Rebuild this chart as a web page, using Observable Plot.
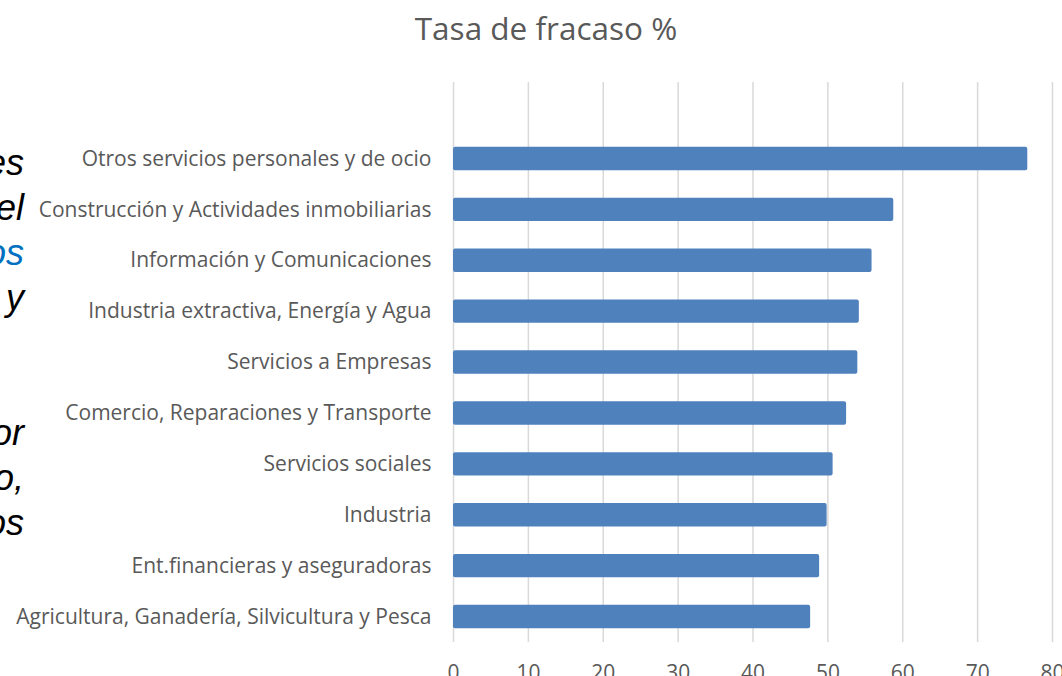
<!DOCTYPE html>
<html>
<head>
<meta charset="utf-8">
<script src="https://cdn.jsdelivr.net/npm/d3@7"></script>
<script src="https://cdn.jsdelivr.net/npm/@observablehq/plot@0.6"></script>
<style>
html, body { margin: 0; padding: 0; background: #ffffff; overflow: hidden; width: 1062px; height: 676px; }
#wrap { position: relative; width: 1062px; height: 676px; overflow: hidden; }
#chart { position: absolute; left: 0; top: 0; }
#title { position: absolute; left: 296px; width: 500px; top: 6px; text-align: center;
         font-family: "Open Sans", sans-serif; font-size: 31.5px; color: #595959; line-height: normal; white-space: nowrap; }
#side { position: absolute; left: -300px; width: 324px; top: 140px; text-align: right;
        font-family: "Liberation Sans", Arial, sans-serif; font-style: italic; font-size: 36px; line-height: 45px; color: #000000; white-space: pre; }
#side .blue { color: #0070c0; }
</style>
</head>
<body>
<div id="wrap">
  <div id="chart"></div>
  <div id="title"></div>
  <div id="side"></div>
</div>
<script>
// ---- data ----
const titleText = "Tasa de fracaso %";
const categories = [
  "Otros servicios personales y de ocio",
  "Construcción y Actividades inmobiliarias",
  "Información y Comunicaciones",
  "Industria extractiva, Energía y Agua",
  "Servicios a Empresas",
  "Comercio, Reparaciones y Transporte",
  "Servicios sociales",
  "Industria",
  "Ent.financieras y aseguradoras",
  "Agricultura, Ganadería, Silvicultura y Pesca"
];
const values = [76.7, 58.8, 55.9, 54.2, 54.0, 52.5, 50.7, 49.9, 48.9, 47.7];
const xTicks = [0, 10, 20, 30, 40, 50, 60, 70, 80];
// cropped fragments of slide text at the left edge (one per line, "" = blank line)
const sideLines = ["es", "el", "os", "y", "", "", "or", "o,", "os"];
const sideBlue = [false, false, true, false, false, false, false, false, false];

// ---- build ----
document.getElementById("title").textContent = titleText;

const side = document.getElementById("side");
sideLines.forEach((t, i) => {
  const line = document.createElement("div");
  line.textContent = t === "" ? " " : t;
  if (sideBlue[i]) line.className = "blue";
  side.appendChild(line);
});

const data = categories.map((c, i) => ({category: c, value: values[i]}));

const chart = Plot.plot({
  width: 1062,
  height: 700,
  marginTop: 82,
  marginBottom: 58,
  marginLeft: 453,
  marginRight: 10,
  style: {fontFamily: "'Open Sans', sans-serif", fontSize: "21px", color: "#595959", background: "transparent", overflow: "visible"},
  x: {domain: [0, 80], ticks: xTicks, label: null, tickSize: 0, tickPadding: 23},
  y: {domain: categories, range: [133, 642], round: false, paddingInner: 0.54, paddingOuter: 0.27, label: null, tickSize: 0, tickPadding: 22},
  marks: [
    Plot.gridX(xTicks, {stroke: "#d9d9d9", strokeOpacity: 1, strokeWidth: 1.5}),
    Plot.barX(data, {x: "value", y: "category", fill: "#4f81bd", rx: 2})
  ]
});
document.getElementById("chart").appendChild(chart);
</script>
</body>
</html>
